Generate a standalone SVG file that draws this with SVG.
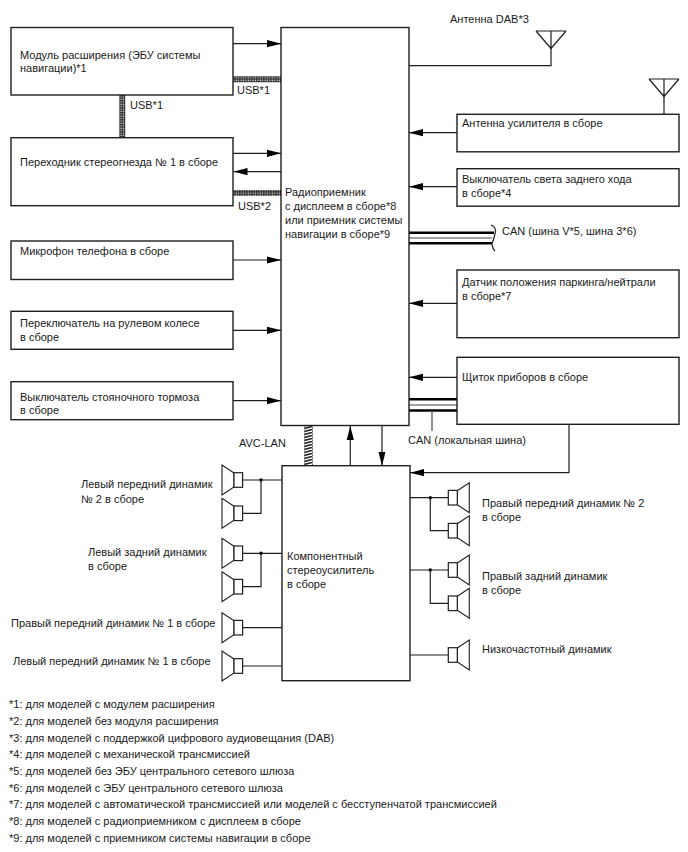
<svg xmlns="http://www.w3.org/2000/svg" width="688" height="852" viewBox="0 0 688 852">
<style>
text{font-family:"Liberation Sans",Arial,sans-serif;font-size:11px;fill:#1a1a1a}
.box{fill:#fff;stroke:#1f1f1f;stroke-width:1.4}
.w{fill:none;stroke:#1f1f1f;stroke-width:1.2}
.a{marker-end:url(#arrow)}
.can{fill:none;stroke:#000;stroke-width:2.4}
.thin{fill:none;stroke:#444;stroke-width:1.2}
</style>
<defs>
<marker id="arrow" markerUnits="userSpaceOnUse" markerWidth="14" markerHeight="8" refX="14" refY="4" orient="auto"><path d="M0 0.4L14 4L0 7.6Z" fill="#000"/></marker>
<pattern id="braid" width="2.4" height="2.4" patternUnits="userSpaceOnUse"><rect width="2.4" height="2.4" fill="#2a2a2a"/><rect x="0.5" y="0.5" width="1.2" height="1.2" fill="#eee"/></pattern>
<pattern id="twist" width="8" height="3" patternUnits="userSpaceOnUse"><rect width="8" height="3" fill="#fff"/><path d="M0 2.6L8 0.4" stroke="#222" stroke-width="1.5"/></pattern>
<g id="spkL"><path d="M12 -7L0 -15V15L12 7Z" fill="#fff" stroke="#1f1f1f" stroke-width="1.1"/><rect x="12" y="-7.3" width="8.6" height="14.6" fill="#fff" stroke="#1f1f1f" stroke-width="1.2"/></g>
<g id="spkR"><path d="M9 -7L21 -15V15L9 7Z" fill="#fff" stroke="#1f1f1f" stroke-width="1.1"/><rect x="0" y="-7.3" width="9" height="14.6" fill="#fff" stroke="#1f1f1f" stroke-width="1.2"/></g>
<g id="aerial"><path d="M-15 0H15M-15 0L0 17.500L15 0M0 0V17.500" fill="none" stroke="#1f1f1f" stroke-width="1.2"/></g>
</defs>
<rect width="688" height="852" fill="#fff"/>

<g id="connectors">
<path class="w a" d="M233 43.700H281"/>
<path class="w a" d="M233 153.300H281"/>
<path class="w a" d="M281 171.700H233.500"/>
<path class="w a" d="M233 260H281"/>
<path class="w a" d="M233 330.300H281"/>
<path class="w a" d="M233 400.700H281"/>
<path class="w a" d="M457 132.700H409"/>
<path class="w a" d="M457 186.700H409"/>
<path class="w a" d="M457 303.300H409"/>
<path class="w a" d="M457 377.300H409"/>
<path class="w" d="M409 65.700H551V48"/>
<path class="w" d="M664 96V114"/>
<rect x="233" y="76.300" width="48" height="6" fill="url(#braid)"/>
<rect x="233" y="190" width="48" height="6" fill="url(#braid)"/>
<rect x="119.300" y="95" width="6" height="43" fill="url(#braid)"/>
<rect x="304.400" y="426" width="8.200" height="40" fill="url(#twist)" stroke="#333" stroke-width="0.4"/>
<path class="w a" d="M350.300 465.700V426"/>
<path class="w a" d="M382 426V465.700"/>
<path class="w a" d="M569 424V472.700H410"/>
<path class="can" d="M409 232.700H494M409 243.300H492"/>
<path class="thin" d="M409 238H492"/>
<path class="w" d="M491 225C496 227 496 231 495 234C494 237 494 240 492 243C492 246 493 249 495 251"/>
<path class="can" d="M409 399.300H457M409 410.500H457"/>
<path class="thin" d="M409 405H457"/>
<path d="M432 411V431" fill="none" stroke="#666" stroke-width="1.4"/>
<path class="w" d="M243 480H282M261 480V513.300H243M243 553.300H282M261 553.300V586.700H243M243 627.700H282M243 666H282"/>
<path class="w" d="M410 497.700H448.300M430.300 497.700V530.700H448.300M410 570H448.300M430.300 570V603.300H448.300M410 655H448.300"/>
<circle cx="261" cy="480" r="1.7" fill="#000"/>
<circle cx="261" cy="553.300" r="1.7" fill="#000"/>
<circle cx="430.300" cy="497.700" r="1.7" fill="#000"/>
<circle cx="430.300" cy="570" r="1.7" fill="#000"/>
</g>

<g id="receiver"><rect class="box" x="281" y="27.500" width="128" height="398"/>
<text x="285" y="196">Радиоприемник</text><text x="285" y="210">с дисплеем в сборе*8</text><text x="285" y="224">или приемник системы</text><text x="285" y="238">навигации в сборе*9</text></g>
<g id="amplifier"><rect class="box" x="282" y="465.700" width="128" height="215"/>
<text x="287" y="560">Компонентный</text><text x="287" y="574">стереоусилитель</text><text x="287" y="588">в сборе</text></g>

<g id="nav-module"><rect class="box" x="11" y="27.500" width="222" height="67.500"/>
<text x="20" y="59">Модуль расширения (ЭБУ системы</text><text x="20" y="72">навигации)*1</text></g>
<g id="jack-adapter"><rect class="box" x="11" y="137.700" width="222" height="68"/>
<text x="20" y="166">Переходник стереогнезда № 1 в сборе</text></g>
<g id="mic"><rect class="box" x="11" y="241" width="222" height="38.500"/>
<text x="20" y="255">Микрофон телефона в сборе</text></g>
<g id="steering-switch"><rect class="box" x="11" y="311.300" width="222" height="38"/>
<text x="20" y="327">Переключатель на рулевом колесе</text><text x="20" y="341">в сборе</text></g>
<g id="parking-brake"><rect class="box" x="11" y="381.700" width="222" height="38"/>
<text x="20" y="401">Выключатель стояночного тормоза</text><text x="20" y="414">в сборе</text></g>

<g id="amp-antenna"><rect class="box" x="457" y="114.300" width="222" height="37.500"/>
<text x="462" y="127">Антенна усилителя в сборе</text></g>
<g id="reverse-switch"><rect class="box" x="457" y="168.700" width="222" height="37.500"/>
<text x="462" y="183">Выключатель света заднего хода</text><text x="462" y="197">в сборе*4</text></g>
<g id="park-sensor"><rect class="box" x="457" y="270" width="222" height="67.700"/>
<text x="462" y="286">Датчик положения паркинга/нейтрали</text><text x="462" y="300">в сборе*7</text></g>
<g id="cluster"><rect class="box" x="457" y="357.300" width="222" height="67"/>
<text x="462" y="381">Щиток приборов в сборе</text></g>

<g id="dab-antenna"><use href="#aerial" x="551" y="31"/><text x="450" y="23">Антенна DAB*3</text></g>
<g id="amp-aerial"><use href="#aerial" x="664" y="79"/></g>

<g id="speaker-lf2"><use href="#spkL" x="222" y="480"/><use href="#spkL" x="222" y="513.300"/><text x="81" y="488">Левый передний динамик</text><text x="81" y="503">№ 2 в сборе</text></g>
<g id="speaker-lr"><use href="#spkL" x="222" y="553.300"/><use href="#spkL" x="222" y="586.700"/><text x="88" y="556">Левый задний динамик</text><text x="88" y="570">в сборе</text></g>
<g id="speaker-rf1"><use href="#spkL" x="222" y="627.700"/><text x="11" y="627">Правый передний динамик № 1 в сборе</text></g>
<g id="speaker-lf1"><use href="#spkL" x="222" y="666"/><text x="13" y="665">Левый передний динамик № 1 в сборе</text></g>
<g id="speaker-rf2"><use href="#spkR" x="448.300" y="497.700"/><use href="#spkR" x="448.300" y="530.700"/><text x="482" y="507">Правый передний динамик № 2</text><text x="482" y="521">в сборе</text></g>
<g id="speaker-rr"><use href="#spkR" x="448.300" y="570"/><use href="#spkR" x="448.300" y="603.300"/><text x="482" y="580">Правый задний динамик</text><text x="482" y="594">в сборе</text></g>
<g id="subwoofer"><use href="#spkR" x="448.300" y="655"/><text x="482" y="653">Низкочастотный динамик</text></g>

<g id="bus-labels">
<text x="237" y="94">USB*1</text>
<text x="238" y="210">USB*2</text>
<text x="130" y="109">USB*1</text>
<text x="239" y="447">AVC-LAN</text>
<text x="408" y="444">CAN (локальная шина)</text>
<text x="502" y="235">CAN (шина V*5, шина 3*6)</text>
</g>

<g id="footnotes">
<text x="9" y="708">*1: для моделей с модулем расширения</text>
<text x="9" y="725">*2: для моделей без модуля расширения</text>
<text x="9" y="742">*3: для моделей с поддержкой цифрового аудиовещания (DAB)</text>
<text x="9" y="758">*4: для моделей с механической трансмиссией</text>
<text x="9" y="775">*5: для моделей без ЭБУ центрального сетевого шлюза</text>
<text x="9" y="792">*6: для моделей с ЭБУ центрального сетевого шлюза</text>
<text x="9" y="808">*7: для моделей с автоматической трансмиссией или моделей с бесступенчатой трансмиссией</text>
<text x="9" y="825">*8: для моделей с радиоприемником с дисплеем в сборе</text>
<text x="9" y="842">*9: для моделей с приемником системы навигации в сборе</text>
</g>
</svg>
